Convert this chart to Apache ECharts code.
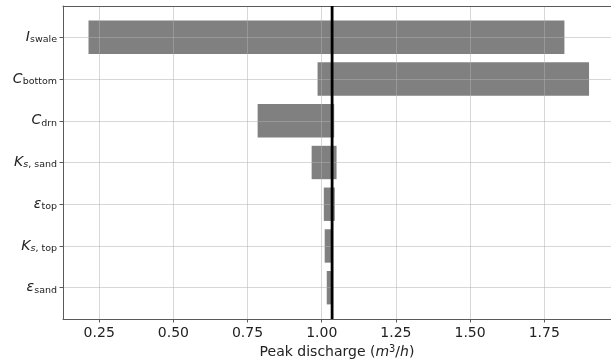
<!DOCTYPE html>
<html>
<head>
<meta charset="utf-8">
<script src="https://cdn.jsdelivr.net/npm/echarts@6/dist/echarts.min.js"></script>
<style>html,body{margin:0;padding:0;background:#fff}#c{width:611px;height:361px}</style>
</head>
<body>
<div id="c"></div>
<script>
const categories = ['{i|I}{sub|swale}', '{i|C}{sub|bottom}', '{i|C}{sub|drn}', '{i|K}{subi|s}{sub|, sand}', '{i|ε}{sub|top}', '{i|K}{subi|s}{sub|, top}', '{i|ε}{sub|sand}'];
const lowValues = [0.214, 0.986, 0.784, 0.966, 1.007, 1.010, 1.017];
const highValues = [1.818, 1.901, 1.042, 1.050, 1.044, 1.036, 1.033];
const baseline = 1.035;
const xTicks = [0.25, 0.50, 0.75, 1.00, 1.25, 1.50, 1.75];
const yTicks = [0, 1, 2, 3, 4, 5, 6];

const font = 'DejaVu Sans';
const spine = '#5a5a5a';
const chart = echarts.init(document.getElementById('c'), null, {renderer: 'canvas'});
const barData = categories.map((c, i) => [lowValues[i], highValues[i], i]);

chart.setOption({
  animation: false,
  grid: {left: 63, right: 0, top: 6, bottom: 42, show: false, containLabel: false, outerBoundsMode: 'none'},
  xAxis: [{
    type: 'value', min: 0.128, max: 1.975, z: 3, position: 'bottom',
    axisLine: {show: true, onZero: false, lineStyle: {color: spine, width: 1}},
    axisTick: {show: true, customValues: xTicks, length: 3.5, lineStyle: {color: spine}},
    axisLabel: {customValues: xTicks, margin: 7, fontFamily: font, fontSize: 14, color: '#222',
      formatter: v => v.toFixed(2)},
    splitLine: {show: true, lineStyle: {color: 'rgba(176,176,176,0.5)', width: 1}},
    name: '{n|Peak discharge (}{i|m}{sup|3}{n|/}{i|h}{n|)}',
    nameLocation: 'middle', nameGap: 25,
    nameTextStyle: {rich: {
      n: {fontFamily: font, fontSize: 14, color: '#222'},
      i: {fontFamily: font, fontSize: 14, fontStyle: 'italic', color: '#222'},
      sup: {fontFamily: font, fontSize: 9.8, color: '#222', verticalAlign: 'top', lineHeight: 8}
    }}
  }, {
    type: 'value', min: 0.128, max: 1.975, z: 3, position: 'top',
    axisLine: {show: true, onZero: false, lineStyle: {color: spine, width: 1}},
    axisTick: {show: false}, axisLabel: {show: false}, splitLine: {show: false}
  }],
  yAxis: {
    type: 'value', inverse: true, min: -0.75, max: 6.75, z: 3,
    axisLine: {show: true, onZero: false, lineStyle: {color: spine, width: 1}},
    axisTick: {show: true, customValues: yTicks, length: 3.5, lineStyle: {color: spine}},
    axisLabel: {customValues: yTicks, margin: 6,
      formatter: v => categories[Math.round(v)] || '',
      rich: {
        i: {fontFamily: font, fontSize: 14, fontStyle: 'italic', color: '#222', lineHeight: 15},
        sub: {fontFamily: font, fontSize: 9.5, color: '#222', verticalAlign: 'bottom', lineHeight: 7},
        subi: {fontFamily: font, fontSize: 9.5, fontStyle: 'italic', color: '#222', verticalAlign: 'bottom', lineHeight: 7}
      }},
    splitLine: {show: true, lineStyle: {color: 'rgba(176,176,176,0.5)', width: 1}}
  },
  series: [
    {
      type: 'custom', z: 2,
      encode: {x: [0, 1], y: 2},
      data: barData,
      renderItem: function (params, api) {
        const lo = api.value(0), hi = api.value(1), y = api.value(2);
        const p0 = api.coord([lo, y]);
        const p1 = api.coord([hi, y]);
        const h = api.size([0, 0.8])[1];
        return {type: 'rect', shape: {x: p0[0], y: p0[1] - h / 2, width: p1[0] - p0[0], height: h},
          style: {fill: '#808080'}};
      }
    },
    {
      type: 'line', z: 10, symbol: 'none', silent: true,
      data: [[baseline, -0.75], [baseline, 6.75]],
      lineStyle: {color: '#000', width: 2.8}
    }
  ]
});
</script>
</body>
</html>
